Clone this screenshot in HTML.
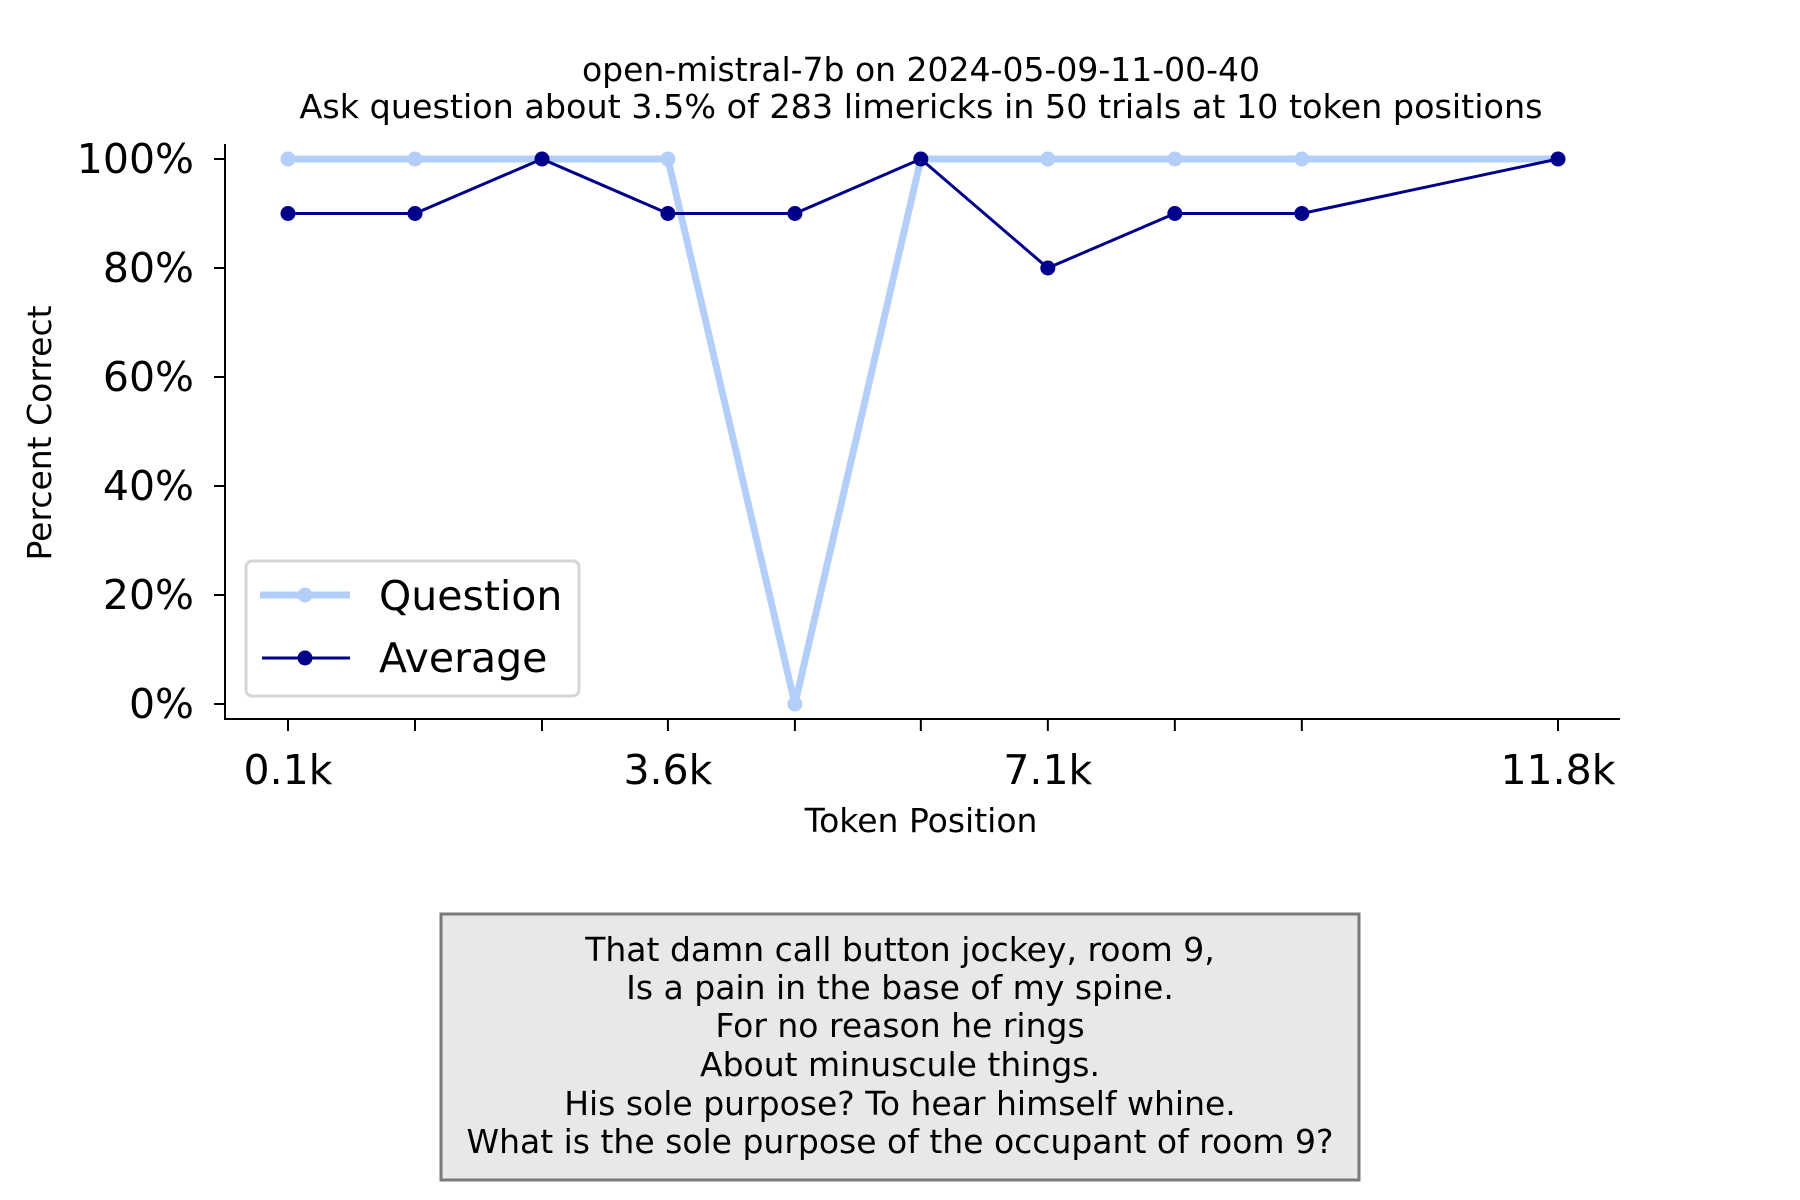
<!DOCTYPE html>
<html><head><meta charset="utf-8"><style>
html,body{margin:0;padding:0;background:#fff;}
svg{display:block;font-family:"DejaVu Sans","Liberation Sans",sans-serif;}
</style></head><body>
<svg id="chart" width="1800" height="1200" viewBox="0 0 1800 1200" xmlns="http://www.w3.org/2000/svg">
<rect width="1800" height="1200" fill="#fff"/>
<text x="921" y="81" text-anchor="middle" font-size="33">open-mistral-7b on 2024-05-09-11-00-40</text>
<text x="921" y="118" text-anchor="middle" font-size="33" textLength="1243" lengthAdjust="spacingAndGlyphs">Ask question about 3.5% of 283 limericks in 50 trials at 10 token positions</text>
<g id="axes"></g>
<g id="series"></g>
<g id="legend">
<rect x="246" y="561" width="333" height="135" rx="6" fill="#fff" fill-opacity="0.8" stroke="#d5d5d5" stroke-width="3"/>
<g>
<line x1="260" y1="595" x2="350" y2="595" stroke="#b3cff9" stroke-width="7"/>
<circle cx="305" cy="595" r="7.5" fill="#b3cff9"/>
<text x="379" y="610" font-size="41">Question</text>
</g>
<g>
<line x1="262" y1="658" x2="350" y2="658" stroke="#00008b" stroke-width="3"/>
<circle cx="305" cy="658" r="7.5" fill="#00008b"/>
<text x="379" y="672" font-size="41">Average</text>
</g>
</g>
<text x="921" y="832" text-anchor="middle" font-size="33">Token Position</text>
<text transform="translate(51,433) rotate(-90)" text-anchor="middle" font-size="33">Percent Correct</text>
<g>
<rect x="441" y="914" width="918" height="266" fill="#e8e8e8" stroke="#7a7a7a" stroke-width="3"/>
<g font-size="33" text-anchor="middle">
<text x="900" y="961">That damn call button jockey, room 9,</text>
<text x="900" y="999">Is a pain in the base of my spine.</text>
<text x="900" y="1037">For no reason he rings</text>
<text x="900" y="1076">About minuscule things.</text>
<text x="900" y="1115">His sole purpose? To hear himself whine.</text>
<text x="900" y="1153">What is the sole purpose of the occupant of room 9?</text>
</g>
</g>
</svg>
<script>
const positions = [0.1, 1.27, 2.44, 3.6, 4.77, 5.93, 7.1, 8.27, 9.44, 11.8];
const questionValues = [100, 100, 100, 100, 0, 100, 100, 100, 100, 100];
const averageValues = [90, 90, 100, 90, 90, 100, 80, 90, 90, 100];
const yTicks = [0, 20, 40, 60, 80, 100];
const xTickLabels = ["0.1k", "", "", "3.6k", "", "", "7.1k", "", "", "11.8k"];

const NS = "http://www.w3.org/2000/svg";
const xScale = v => 288 + (v - 0.1) * (1558 - 288) / (11.8 - 0.1);
const yScale = v => 704 - v * 5.45;
function mk(tag, attrs, parent) {
  const e = document.createElementNS(NS, tag);
  for (const k in attrs) e.setAttribute(k, attrs[k]);
  parent.appendChild(e);
  return e;
}
const axes = document.getElementById("axes");
let s = mk("line", {x1: 225, y1: 144, x2: 225, y2: 720, stroke: "#000", "stroke-width": 2}, axes);


s = mk("line", {x1: 224, y1: 719, x2: 1620, y2: 719, stroke: "#000", "stroke-width": 2}, axes);


yTicks.forEach(t => {
  const y = yScale(t);
  const l = mk("line", {x1: 214, y1: y, x2: 225, y2: y, stroke: "#000", "stroke-width": 2}, axes);
  
  
  const tx = mk("text", {x: 194, y: y + 14, "text-anchor": "end", "font-size": 41}, axes);
  tx.textContent = t + "%";
  
  
});
positions.forEach((p, i) => {
  const x = xScale(p);
  const l = mk("line", {x1: x, y1: 719, x2: x, y2: 731, stroke: "#000", "stroke-width": 2}, axes);
  
  
  if (xTickLabels[i]) {
    const tx = mk("text", {x: x, y: 784, "text-anchor": "middle", "font-size": 41}, axes);
    tx.textContent = xTickLabels[i];
    
    
  }
});
const series = document.getElementById("series");
function drawSeries(vals, color, width, name) {
  const g = mk("g", {}, series);
  
  
  const pts = vals.map((v, i) => xScale(positions[i]) + "," + yScale(v)).join(" ");
  const pl = mk("polyline", {points: pts, fill: "none", stroke: color, "stroke-width": width, "stroke-linejoin": "round"}, g);
  
  
  vals.forEach((v, i) => {
    const c = mk("circle", {cx: xScale(positions[i]), cy: yScale(v), r: 7.5, fill: color}, g);
    
    
  });
}
drawSeries(questionValues, "#b3cff9", 7, "question-series");
drawSeries(averageValues, "#00008b", 3, "average-series");
</script>
</body></html>
